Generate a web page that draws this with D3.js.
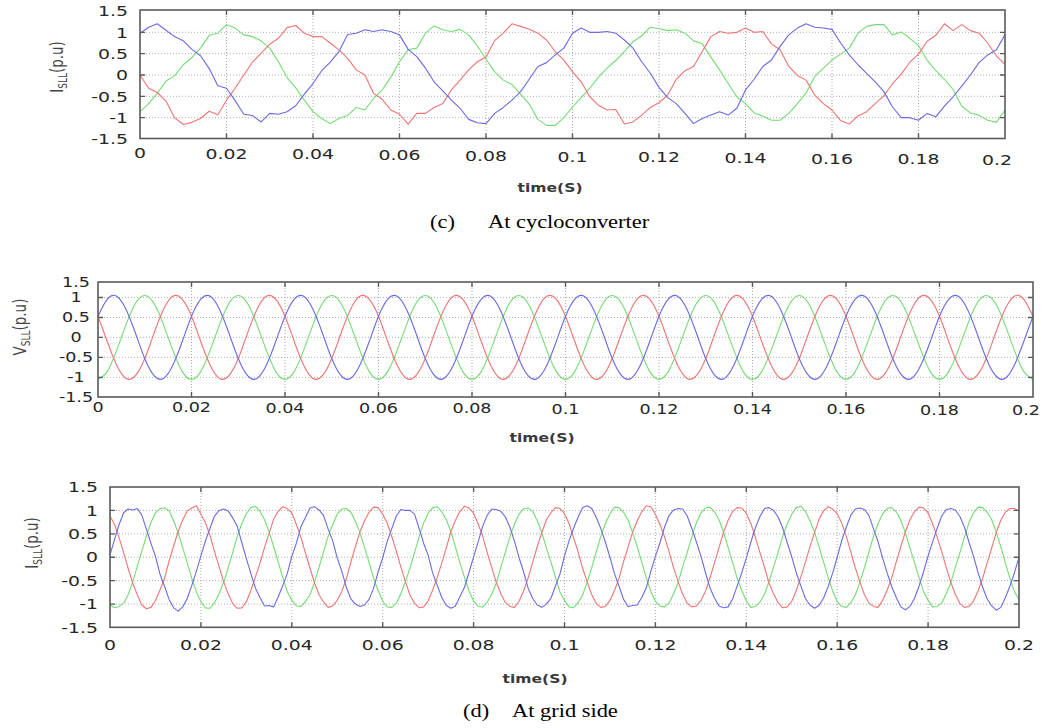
<!DOCTYPE html>
<html>
<head>
<meta charset="utf-8">
<script src="https://cdn.jsdelivr.net/npm/d3@7"></script>
<style>
  body { margin: 0; background: #fff; }
  svg { display: block; }
</style>
</head>
<body>
<svg id="fig" width="1043" height="728"></svg>
<script>
// ---- axis values ----
const timeTicks = [0, 0.02, 0.04, 0.06, 0.08, 0.1, 0.12, 0.14, 0.16, 0.18, 0.2];
const timeTickLabels = ["0", "0.02", "0.04", "0.06", "0.08", "0.1", "0.12", "0.14", "0.16", "0.18", "0.2"];
const puTicks = [-1.5, -1, -0.5, 0, 0.5, 1, 1.5];
const puTickLabels = ["-1.5", "-1", "-0.5", "0", "0.5", "1", "1.5"];
const puGrid = [-1, -0.5, 0, 0.5, 1];

const phaseColors = { a: "#f07474", b: "#74dc74", c: "#6a6ae6" };

// ---- (c) current at cycloconverter, sampled every 2 ms ----
const cycloStep = 0.002;
const cycloRed = [0.0, -0.31, -0.41, -0.61, -1.0, -1.16, -1.11, -1.02, -0.85, -0.93, -0.59, -0.31, 0.0, 0.3, 0.51, 0.72, 0.86, 1.11, 1.16, 0.98,
  0.9, 0.9, 0.75, 0.59, 0.39, 0.12, 0.0, -0.43, -0.57, -0.82, -0.92, -1.15, -0.9, -0.9, -0.76, -0.67, -0.35, -0.12, 0.12, 0.31,
  0.42, 0.81, 0.98, 1.2, 1.14, 1.07, 0.98, 0.82, 0.55, 0.35, 0.08, -0.16, -0.51, -0.71, -0.82, -0.81, -1.15, -1.1, -0.94, -0.76,
  -0.65, -0.47, -0.1, 0.1, 0.2, 0.55, 0.9, 1.02, 0.98, 1.0, 1.1, 1.0, 1.02, 0.73, 0.59, 0.2, -0.01, -0.12, -0.47, -0.67,
  -0.82, -1.07, -1.15, -0.96, -0.86, -0.67, -0.49, -0.2, 0.02, 0.3, 0.49, 0.79, 0.93, 1.2, 1.04, 1.18, 1.04, 0.98, 0.75, 0.45, 0.25];
const cycloGreen = [-0.86, -0.67, -0.43, -0.14, -0.02, 0.24, 0.41, 0.63, 0.93, 0.98, 1.18, 1.1, 0.94, 0.9, 0.8, 0.63, 0.31, -0.06, -0.3, -0.59,
  -0.86, -1.02, -1.14, -1.02, -0.95, -0.76, -0.82, -0.55, -0.35, -0.05, 0.31, 0.59, 0.63, 0.98, 1.15, 1.06, 1.02, 1.07, 0.94, 0.68,
  0.37, 0.08, -0.12, -0.22, -0.45, -0.68, -1.04, -1.18, -1.18, -1.0, -0.75, -0.53, -0.31, -0.05, 0.16, 0.34, 0.55, 0.78, 0.92, 1.12,
  1.09, 1.04, 1.06, 0.98, 0.8, 0.73, 0.42, 0.12, -0.2, -0.51, -0.67, -0.89, -0.96, -1.06, -1.06, -0.9, -0.67, -0.42, -0.04, 0.16,
  0.35, 0.49, 0.63, 0.98, 1.14, 1.18, 1.18, 0.94, 1.01, 0.86, 0.69, 0.35, 0.1, -0.1, -0.34, -0.73, -0.89, -0.94, -1.06, -1.11, -0.82];
const cycloBlue = [0.98, 1.12, 1.2, 1.05, 0.9, 0.8, 0.6, 0.45, 0.15, -0.25, -0.31, -0.6, -0.92, -0.95, -1.1, -0.9, -0.92, -0.86, -0.72, -0.45,
  -0.2, 0.1, 0.3, 0.55, 0.95, 0.98, 1.06, 1.02, 1.06, 1.02, 0.94, 0.6, 0.43, 0.16, -0.16, -0.37, -0.59, -0.78, -1.04, -1.12,
  -1.14, -0.9, -0.76, -0.59, -0.39, -0.1, 0.2, 0.29, 0.47, 0.63, 0.98, 1.1, 1.0, 1.0, 1.02, 0.98, 0.82, 0.63, 0.31, 0.04,
  -0.29, -0.53, -0.67, -0.9, -1.14, -1.02, -0.94, -0.86, -0.94, -0.78, -0.35, -0.1, 0.2, 0.35, 0.67, 0.94, 1.1, 1.2, 1.12, 1.1,
  1.07, 0.75, 0.47, 0.24, 0.04, -0.16, -0.39, -0.75, -1.0, -1.0, -1.06, -0.9, -0.98, -0.73, -0.51, -0.26, 0.0, 0.29, 0.47, 0.59, 0.94];

// ---- (d) grid voltage, sampled every 2 ms ----
const gridVStep = 0.002;
const gridVRed = [0.53, -0.11, -0.70, -1.03, -0.96, -0.53, 0.11, 0.70, 1.03, 0.96, 0.53, -0.11, -0.70, -1.03, -0.96, -0.53, 0.11, 0.70, 1.03, 0.96,
  0.53, -0.11, -0.70, -1.03, -0.96, -0.53, 0.11, 0.70, 1.03, 0.96, 0.53, -0.11, -0.70, -1.03, -0.96, -0.53, 0.11, 0.70, 1.03, 0.96,
  0.53, -0.11, -0.70, -1.03, -0.96, -0.53, 0.11, 0.70, 1.03, 0.96, 0.53, -0.11, -0.70, -1.03, -0.96, -0.53, 0.11, 0.70, 1.03, 0.96,
  0.53, -0.11, -0.70, -1.03, -0.96, -0.53, 0.11, 0.70, 1.03, 0.96, 0.53, -0.11, -0.70, -1.03, -0.96, -0.53, 0.11, 0.70, 1.03, 0.96,
  0.53, -0.11, -0.70, -1.03, -0.96, -0.53, 0.11, 0.70, 1.03, 0.96, 0.53, -0.11, -0.70, -1.03, -0.96, -0.53, 0.11, 0.70, 1.03, 0.96, 0.53];
const gridVGreen = [-1.05, -0.85, -0.32, 0.32, 0.85, 1.05, 0.85, 0.32, -0.32, -0.85, -1.05, -0.85, -0.32, 0.32, 0.85, 1.05, 0.85, 0.32, -0.32, -0.85,
  -1.05, -0.85, -0.32, 0.32, 0.85, 1.05, 0.85, 0.32, -0.32, -0.85, -1.05, -0.85, -0.32, 0.32, 0.85, 1.05, 0.85, 0.32, -0.32, -0.85,
  -1.05, -0.85, -0.32, 0.32, 0.85, 1.05, 0.85, 0.32, -0.32, -0.85, -1.05, -0.85, -0.32, 0.32, 0.85, 1.05, 0.85, 0.32, -0.32, -0.85,
  -1.05, -0.85, -0.32, 0.32, 0.85, 1.05, 0.85, 0.32, -0.32, -0.85, -1.05, -0.85, -0.32, 0.32, 0.85, 1.05, 0.85, 0.32, -0.32, -0.85,
  -1.05, -0.85, -0.32, 0.32, 0.85, 1.05, 0.85, 0.32, -0.32, -0.85, -1.05, -0.85, -0.32, 0.32, 0.85, 1.05, 0.85, 0.32, -0.32, -0.85, -1.05];
const gridVBlue = [0.53, 0.96, 1.03, 0.70, 0.11, -0.53, -0.96, -1.03, -0.70, -0.11, 0.53, 0.96, 1.03, 0.70, 0.11, -0.53, -0.96, -1.03, -0.70, -0.11,
  0.53, 0.96, 1.03, 0.70, 0.11, -0.53, -0.96, -1.03, -0.70, -0.11, 0.53, 0.96, 1.03, 0.70, 0.11, -0.53, -0.96, -1.03, -0.70, -0.11,
  0.53, 0.96, 1.03, 0.70, 0.11, -0.53, -0.96, -1.03, -0.70, -0.11, 0.53, 0.96, 1.03, 0.70, 0.11, -0.53, -0.96, -1.03, -0.70, -0.11,
  0.53, 0.96, 1.03, 0.70, 0.11, -0.53, -0.96, -1.03, -0.70, -0.11, 0.53, 0.96, 1.03, 0.70, 0.11, -0.53, -0.96, -1.03, -0.70, -0.11,
  0.53, 0.96, 1.03, 0.70, 0.11, -0.53, -0.96, -1.03, -0.70, -0.11, 0.53, 0.96, 1.03, 0.70, 0.11, -0.53, -0.96, -1.03, -0.70, -0.11, 0.53];

// ---- (d) grid current, sampled every 1 ms ----
const gridIStep = 0.001;
const gridIRed = [0.88, 0.70, 0.42, 0.10, -0.24, -0.55, -0.80, -1.02, -1.10, -1.07, -0.93, -0.70, -0.45, -0.08, 0.24, 0.55, 0.80, 0.99, 1.05, 1.10,
  0.92, 0.74, 0.46, 0.12, -0.20, -0.52, -0.78, -0.99, -1.09, -1.08, -0.95, -0.71, -0.42, -0.13, 0.21, 0.51, 0.81, 0.98, 1.08, 1.04,
  0.95, 0.70, 0.43, 0.09, -0.23, -0.55, -0.80, -0.96, -1.07, -1.04, -0.92, -0.73, -0.46, -0.10, 0.23, 0.54, 0.78, 0.96, 1.07, 1.06,
  0.92, 0.73, 0.44, 0.13, -0.21, -0.52, -0.81, -0.98, -1.08, -1.06, -0.93, -0.70, -0.43, -0.12, 0.20, 0.55, 0.79, 0.98, 1.09, 1.05,
  0.94, 0.71, 0.45, 0.10, -0.22, -0.54, -0.78, -0.97, -1.05, -1.07, -0.94, -0.72, -0.44, -0.11, 0.23, 0.52, 0.80, 0.95, 1.06, 1.04,
  0.93, 0.72, 0.42, 0.11, -0.24, -0.53, -0.80, -0.99, -1.07, -1.05, -0.92, -0.71, -0.45, -0.09, 0.22, 0.54, 0.78, 0.97, 1.10, 1.08,
  0.92, 0.70, 0.44, 0.12, -0.22, -0.52, -0.79, -0.98, -1.06, -1.04, -0.93, -0.73, -0.44, -0.12, 0.21, 0.53, 0.79, 0.98, 1.06, 1.05,
  0.94, 0.72, 0.43, 0.10, -0.21, -0.55, -0.78, -0.97, -1.08, -1.06, -0.94, -0.71, -0.42, -0.11, 0.22, 0.52, 0.81, 0.99, 1.08, 1.03,
  0.93, 0.73, 0.45, 0.11, -0.23, -0.53, -0.80, -0.98, -1.05, -1.07, -0.92, -0.70, -0.44, -0.10, 0.23, 0.54, 0.80, 0.97, 1.07, 1.05,
  0.95, 0.71, 0.43, 0.12, -0.22, -0.54, -0.79, -0.99, -1.07, -1.05, -0.93, -0.72, -0.45, -0.12, 0.20, 0.53, 0.79, 0.96, 1.04, 1.04,
  0.98];
const gridIGreen = [-1.02, -1.08, -1.05, -0.98, -0.80, -0.52, -0.20, 0.13, 0.45, 0.74, 0.95, 1.04, 1.05, 1.00, 0.78, 0.52, 0.20, -0.12, -0.45, -0.74,
  -0.95, -1.08, -1.09, -0.97, -0.78, -0.54, -0.22, 0.10, 0.44, 0.72, 0.93, 1.06, 1.09, 0.98, 0.80, 0.54, 0.23, -0.10, -0.43, -0.73,
  -0.92, -1.04, -1.05, -0.95, -0.80, -0.53, -0.21, 0.12, 0.45, 0.70, 0.92, 1.03, 1.04, 0.96, 0.77, 0.52, 0.21, -0.11, -0.45, -0.71,
  -0.94, -1.06, -1.07, -0.98, -0.78, -0.52, -0.23, 0.10, 0.43, 0.73, 0.94, 1.06, 1.08, 0.97, 0.80, 0.54, 0.22, -0.12, -0.43, -0.72,
  -0.93, -1.05, -1.06, -0.96, -0.79, -0.55, -0.21, 0.11, 0.44, 0.71, 0.92, 1.04, 1.05, 0.98, 0.78, 0.53, 0.20, -0.10, -0.42, -0.74,
  -0.92, -1.06, -1.08, -0.97, -0.80, -0.53, -0.22, 0.12, 0.45, 0.72, 0.93, 1.07, 1.06, 0.96, 0.79, 0.52, 0.23, -0.11, -0.44, -0.73,
  -0.94, -1.04, -1.06, -0.98, -0.78, -0.54, -0.20, 0.10, 0.43, 0.73, 0.94, 1.05, 1.07, 0.97, 0.80, 0.53, 0.21, -0.12, -0.45, -0.71,
  -0.93, -1.07, -1.05, -0.96, -0.79, -0.52, -0.21, 0.11, 0.44, 0.71, 0.92, 1.06, 1.09, 0.98, 0.78, 0.54, 0.22, -0.10, -0.43, -0.72,
  -0.95, -1.05, -1.07, -0.97, -0.80, -0.53, -0.22, 0.12, 0.45, 0.72, 0.93, 1.04, 1.06, 0.97, 0.79, 0.52, 0.20, -0.11, -0.44, -0.73,
  -0.92, -1.06, -1.05, -0.98, -0.78, -0.54, -0.21, 0.10, 0.43, 0.74, 0.95, 1.07, 1.06, 0.96, 0.80, 0.53, 0.22, -0.12, -0.45, -0.74,
  -0.90];
const gridIBlue = [0.05, 0.38, 0.70, 0.95, 1.03, 1.01, 1.04, 0.90, 0.60, 0.30, 0.02, -0.36, -0.62, -0.90, -1.08, -1.15, -1.06, -0.88, -0.60, -0.30,
  0.03, 0.35, 0.62, 0.88, 1.00, 1.03, 0.99, 0.84, 0.66, 0.31, -0.03, -0.35, -0.66, -0.86, -1.04, -1.03, -1.06, -0.85, -0.61, -0.35,
  0.02, 0.30, 0.65, 0.85, 1.05, 1.08, 1.01, 0.89, 0.60, 0.35, -0.02, -0.30, -0.64, -0.89, -1.00, -1.05, -1.02, -0.90, -0.66, -0.31,
  -0.01, 0.34, 0.61, 0.88, 1.02, 1.00, 1.00, 0.92, 0.62, 0.30, 0.04, -0.34, -0.60, -0.86, -1.03, -1.09, -1.04, -0.84, -0.64, -0.32,
  0.01, 0.33, 0.66, 0.90, 1.03, 1.02, 0.98, 0.86, 0.64, 0.34, -0.01, -0.31, -0.66, -0.88, -1.02, -1.07, -1.00, -0.88, -0.62, -0.36,
  0.03, 0.35, 0.62, 0.86, 1.06, 1.10, 1.04, 0.85, 0.61, 0.32, 0.00, -0.35, -0.62, -0.90, -1.05, -1.03, -1.02, -0.86, -0.65, -0.30,
  0.02, 0.31, 0.64, 0.89, 1.01, 1.04, 1.03, 0.88, 0.62, 0.33, 0.03, -0.32, -0.65, -0.87, -1.04, -1.08, -1.06, -0.89, -0.61, -0.33,
  -0.02, 0.32, 0.63, 0.87, 1.04, 1.06, 1.00, 0.86, 0.63, 0.31, 0.01, -0.33, -0.61, -0.88, -1.02, -1.09, -1.03, -0.87, -0.63, -0.34,
  0.00, 0.36, 0.64, 0.90, 1.03, 1.05, 1.02, 0.89, 0.60, 0.33, -0.02, -0.34, -0.63, -0.86, -1.06, -1.12, -1.05, -0.88, -0.62, -0.31,
  0.03, 0.33, 0.62, 0.88, 1.02, 1.04, 1.01, 0.87, 0.64, 0.32, 0.02, -0.33, -0.64, -0.89, -1.04, -1.13, -1.07, -0.86, -0.62, -0.33,
  0.00];

const svg = d3.select("#fig");
const sx = 1.3; // the scanned figure is stretched horizontally

// text that is widened the same way as the scan
function wideText(g, x, y, str, size, anchor, weight) {
    return g.append("text")
        .attr("transform", `translate(${x},${y}) scale(${sx},1)`)
        .attr("text-anchor", anchor || "middle")
        .attr("font-family", "DejaVu Sans, Verdana, sans-serif")
        .attr("font-size", size)
        .attr("font-weight", weight || "normal")
        .attr("fill", "#262626")
        .text(str);
}

function drawPanel(cfg) {
    const x = d3.scaleLinear().domain([0, 0.2]).range([cfg.left, cfg.right]);
    const y = d3.scaleLinear().domain([-1.5, 1.5]).range([cfg.yLow, cfg.yHigh]);
    const g = svg.append("g");
    const top = cfg.frameTop, bottom = cfg.frameBottom;

    // dotted grid
    g.selectAll(".hgrid").data(puGrid).join("line")
        .attr("x1", cfg.left).attr("x2", cfg.right)
        .attr("y1", d => y(d)).attr("y2", d => y(d))
        .attr("stroke", "#b0b0b0").attr("stroke-dasharray", "1,2");
    g.selectAll(".vgrid").data(timeTicks.slice(1, -1)).join("line")
        .attr("x1", d => x(d)).attr("x2", d => x(d))
        .attr("y1", top).attr("y2", bottom)
        .attr("stroke", "#a8a8a8").attr("stroke-dasharray", "1,2");

    // waveforms
    const line = d3.line()
        .x((d, i) => x(i * cfg.step))
        .y(d => y(d))
        .curve(cfg.curve);
    cfg.series.forEach(s => {
        g.append("path")
            .attr("d", line(s.values))
            .attr("fill", "none")
            .attr("stroke", s.color)
            .attr("stroke-width", 1.1)
            .attr("stroke-linejoin", "round");
    });

    // frame and inward ticks
    g.append("rect")
        .attr("x", cfg.left).attr("y", top)
        .attr("width", cfg.right - cfg.left).attr("height", bottom - top)
        .attr("fill", "none").attr("stroke", "#5a5a5a").attr("stroke-width", 1.6);
    g.selectAll(".xt").data(timeTicks.slice(1, -1)).join("path")
        .attr("d", d => `M${x(d)},${top}v5M${x(d)},${bottom}v-5`)
        .attr("stroke", "#5a5a5a").attr("stroke-width", 1.4);
    g.selectAll(".yt").data(puGrid).join("path")
        .attr("d", d => `M${cfg.left},${y(d)}h5M${cfg.right},${y(d)}h-5`)
        .attr("stroke", "#5a5a5a").attr("stroke-width", 1.4);

    // tick labels (last one pulled inside the page)
    timeTicks.forEach((t, i) => {
        const xx = Math.min(x(t), cfg.maxLabelX);
        wideText(g, xx, cfg.xLabelY + cfg.tilt * t / 0.2, timeTickLabels[i], cfg.fontSize);
    });
    puTicks.forEach((v, i) => {
        const yy = Math.min(Math.max(y(v), top), bottom);
        wideText(g, cfg.yLabelX, yy + cfg.fontSize * 0.36, puTickLabels[i], cfg.fontSize, cfg.yAnchor);
    });

    // axis titles
    wideText(g, cfg.timeX, cfg.timeY, "time(S)", 12, "middle", "bold").attr("fill", "#3a3a3a");

    const yt = g.append("text")
        .attr("transform", `translate(${cfg.titleX},${cfg.titleY}) scale(${sx},1) rotate(-90)`)
        .attr("text-anchor", "middle")
        .attr("font-family", "DejaVu Sans, Verdana, sans-serif")
        .attr("font-size", 13.5)
        .attr("fill", "#444");
    yt.append("tspan").text(cfg.symbol);
    yt.append("tspan").attr("font-size", 9).attr("dy", 3).text("SLL");
    yt.append("tspan").attr("dy", -3).text("(p.u)");
}

drawPanel({
    left: 140, right: 1005, yHigh: 11, yLow: 139, frameTop: 10, frameBottom: 138.5,
    step: cycloStep, curve: d3.curveLinear,
    series: [
        { values: cycloGreen, color: phaseColors.b },
        { values: cycloRed, color: phaseColors.a },
        { values: cycloBlue, color: phaseColors.c }
    ],
    xLabelY: 158, tilt: 7, fontSize: 14.5, yLabelX: 128, yAnchor: "end", maxLabelX: 997,
    timeX: 550, timeY: 192, titleX: 63, titleY: 67, symbol: "I"
});

drawPanel({
    left: 98, right: 1033, yHigh: 277.5, yLow: 397.3, frameTop: 282, frameBottom: 397,
    step: gridVStep, curve: d3.curveNatural,
    series: [
        { values: gridVGreen, color: phaseColors.b },
        { values: gridVRed, color: phaseColors.a },
        { values: gridVBlue, color: phaseColors.c }
    ],
    xLabelY: 412, tilt: 3, fontSize: 13.5, yLabelX: 76, yAnchor: "middle", maxLabelX: 1026,
    timeX: 542, timeY: 442, titleX: 26, titleY: 327, symbol: "V"
});

drawPanel({
    left: 110, right: 1019, yHigh: 487, yLow: 627.5, frameTop: 487, frameBottom: 627.3,
    step: gridIStep, curve: d3.curveLinear,
    series: [
        { values: gridIGreen, color: phaseColors.b },
        { values: gridIRed, color: phaseColors.a },
        { values: gridIBlue, color: phaseColors.c }
    ],
    xLabelY: 650, tilt: 0, fontSize: 14.5, yLabelX: 98, yAnchor: "end", maxLabelX: 1019,
    timeX: 535, timeY: 683, titleX: 38, titleY: 543, symbol: "I"
});

// captions
function caption(label, text, xLabel, xText, y) {
    [[xLabel, label], [xText, text]].forEach(([xx, s]) => {
        svg.append("text")
            .attr("transform", `translate(${xx},${y}) scale(1.15,1)`)
            .attr("font-family", "Liberation Serif, Times New Roman, serif")
            .attr("font-size", 19.5)
            .attr("fill", "#000")
            .text(s);
    });
}
caption("(c)", "At cycloconverter", 430, 488, 228);
caption("(d)", "At grid side", 463, 512, 717);
</script>
</body>
</html>
